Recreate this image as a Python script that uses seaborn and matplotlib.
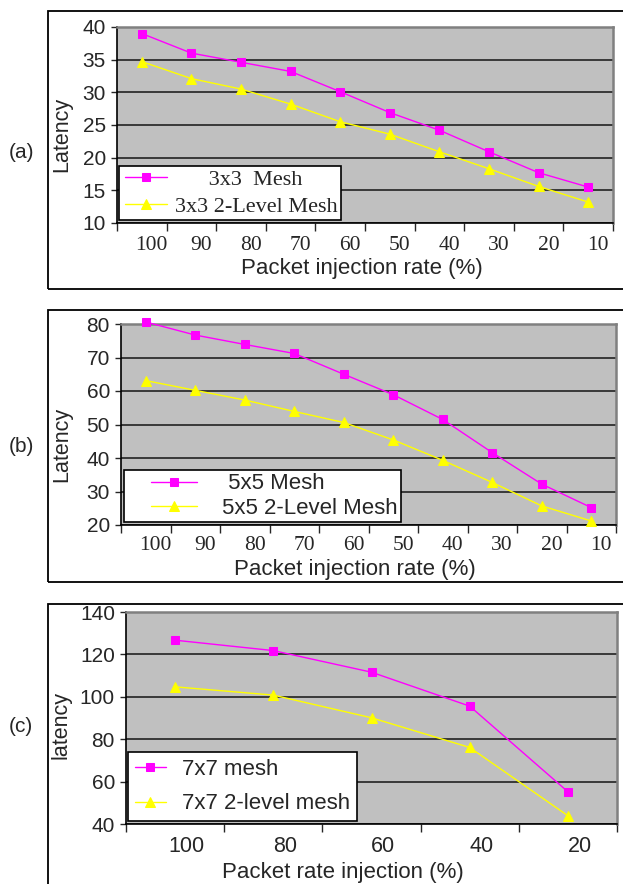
import numpy as np
import matplotlib
matplotlib.use('Agg')
import matplotlib.pyplot as plt
import seaborn as sns
from matplotlib.patches import Rectangle
from matplotlib.lines import Line2D
from matplotlib.legend_handler import HandlerLine2D

sns.set_style('white')
plt.rcParams['font.family'] = ['Liberation Sans', 'DejaVu Sans']

# ── data ───────────────────────────────────────────────────
rates_ab = ['100', '90', '80', '70', '60', '50', '40', '30', '20', '10']
mesh_a = [39.0, 36.0, 34.6, 33.2, 30.1, 26.9, 24.2, 20.9, 17.7, 15.5]
lvl2_a = [34.7, 32.1, 30.5, 28.2, 25.5, 23.6, 20.9, 18.3, 15.6, 13.2]
mesh_b = [80.6, 76.7, 73.9, 71.2, 65.0, 58.9, 51.5, 41.6, 32.2, 25.2]
lvl2_b = [63.1, 60.2, 57.3, 53.9, 50.6, 45.4, 39.3, 32.7, 25.7, 21.2]
rates_c = ['100', '80', '60', '40', '20']
mesh_c = [126.7, 121.8, 111.6, 95.6, 55.2]
lvl2_c = [104.7, 100.8, 90.1, 76.1, 43.9]

names_a = ['      3x3  Mesh', '3x3 2-Level Mesh']
names_b = [' 5x5 Mesh', '5x5 2-Level Mesh']
names_c = ['7x7 mesh', '7x7 2-level mesh']

W, H = 623, 884
fig = plt.figure(figsize=(W / 100, H / 100), dpi=100)
fig.patch.set_facecolor('white')

SERIF = ['Liberation Serif', 'DejaVu Serif']
SANS = ['Liberation Sans', 'DejaVu Sans']


def px_rect(l, t, r, b):
    return [l / W, 1 - b / H, (r - l) / W, (b - t) / H]


def panel(rect, cats, mesh, lvl2, names, ylim, ystep, ylabel, xlabel,
          xfont, legfont, leg, lab_shift, ylab_xy, xlab_xy, xpad):
    ax = fig.add_axes(rect)
    ax.set_facecolor('#C0C0C0')
    pos = np.arange(len(cats))
    sns.lineplot(x=pos, y=mesh, ax=ax, color='#FF00FF', marker='s',
                 markersize=5.5, markeredgecolor='#FF00FF', lw=1.0,
                 label=names[0], clip_on=False, zorder=3)
    sns.lineplot(x=pos, y=lvl2, ax=ax, color='#FFFF00', marker='^',
                 markersize=7, markeredgecolor='#FFFF00', lw=1.0,
                 label=names[1], clip_on=False, zorder=3)
    ax.set_xlim(-0.5, len(cats) - 0.5)
    ax.set_ylim(*ylim)
    ax.set_yticks(np.arange(ylim[0], ylim[1] + 1, ystep))
    ax.grid(axis='y', color='#151515', lw=1.1)
    ax.grid(axis='x', visible=False)
    ax.set_axisbelow(True)
    ax.tick_params(axis='y', left=True, length=4, width=1, pad=4,
                   labelsize=15, direction='out')
    ax.set_xticks(pos + lab_shift)
    ax.set_xticklabels(cats, fontfamily=xfont, fontsize=15.5)
    ax.set_xticks(np.arange(len(cats) + 1) - 0.5, minor=True)
    ax.tick_params(axis='x', which='major', bottom=True, length=0, pad=xpad)
    ax.tick_params(axis='x', which='minor', bottom=True, length=6, width=1,
                   direction='out')
    for s in ['left', 'bottom']:
        ax.spines[s].set_color('black')
        ax.spines[s].set_linewidth(1.2)
    for s in ['top', 'right']:
        ax.spines[s].set_color('#808080')
        ax.spines[s].set_linewidth(1.8)
    ax.set_ylabel(ylabel, fontsize=15.5)
    ax.yaxis.set_label_coords(*ylab_xy)
    ax.set_xlabel(xlabel, fontsize=16)
    ax.xaxis.set_label_coords(*xlab_xy)
    lg = ax.legend(loc='lower left', bbox_to_anchor=leg['anchor'],
                   borderaxespad=0, prop={'family': legfont, 'size': 16},
                   frameon=True, fancybox=False, framealpha=1,
                   edgecolor='black', facecolor='white', numpoints=1,
                   borderpad=leg['bp'], labelspacing=leg['ls'],
                   handlelength=leg['hl'], handletextpad=leg['htp'],
                   handler_map={Line2D: HandlerLine2D(xpad=leg['xpad'])})
    lg.get_frame().set_linewidth(1.2)
    lg.set_zorder(5)
    return ax


panel(px_rect(117, 27, 613, 223), rates_ab, mesh_a, lvl2_a, names_a,
      (10, 40), 5, 'Latency', 'Packet injection rate (%)', SERIF, SERIF,
      dict(anchor=(0.004, 0.015), bp=0.15, ls=0.3, hl=2.0, htp=0.36, xpad=0.12),
      0.2, (-0.09, 0.45), (0.493, -0.18), 9)

panel(px_rect(121, 324, 616, 525), rates_ab, mesh_b, lvl2_b, names_b,
      (20, 80), 10, 'Latency', 'Packet injection rate (%)', SERIF, SANS,
      dict(anchor=(0.006, 0.015), bp=0.15, ls=0.15, hl=3.14, htp=1.13, xpad=1.07),
      0.2, (-0.098, 0.4), (0.473, -0.17), 8)

panel(px_rect(126, 612, 617, 824), rates_c, mesh_c, lvl2_c, names_c,
      (40, 140), 20, 'latency', 'Packet rate injection (%)', SANS, SANS,
      dict(anchor=(0.004, 0.014), bp=0.3, ls=0.6, hl=1.41, htp=0.72, xpad=0.0),
      0.12, (-0.11, 0.467), (0.442, -0.178), 9)

# outer frames around each chart
for top, bot in [(11, 289), (310, 582), (604, 900)]:
    fig.add_artist(Rectangle((48 / W, 1 - bot / H), 600 / W, (bot - top) / H,
                             transform=fig.transFigure, fill=False,
                             ec='black', lw=1.3))

for lab, y in [('(a)', 152), ('(b)', 447), ('(c)', 727)]:
    fig.text(21 / W, 1 - y / H, lab, ha='center', va='center', fontsize=15)

fig.savefig('out.png', dpi=100)
